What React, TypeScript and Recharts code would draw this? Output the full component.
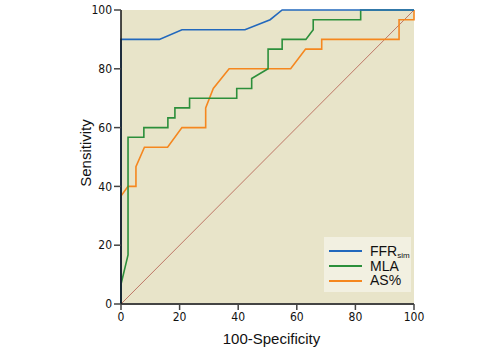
import { LineChart, Line, XAxis, YAxis, CartesianGrid } from 'recharts'

// ROC curves, values (30 positives → steps of 3.33)
const ffrX = [0, 0, 13.1, 20.8, 42.3, 50.9, 55, 100]
const ffrY = [0, 90, 90, 93.3, 93.3, 96.7, 100, 100]

const mlaX = [0, 0, 2.4, 2.4, 7.8, 7.8, 16, 16, 18.4, 18.4, 23.4, 23.4, 39.5, 39.5, 44.6, 44.6, 50.2, 50.2, 55, 55, 63.1, 65.6, 65.6, 81.8, 81.8, 100]
const mlaY = [0, 6.7, 16.7, 56.7, 56.7, 60, 60, 63.3, 63.3, 66.7, 66.7, 70, 70, 73.3, 73.3, 76.7, 80, 86.7, 86.7, 90, 90, 93.3, 96.7, 96.7, 100, 100]

const asX = [0, 0, 2.4, 5.1, 5.1, 8, 15.9, 20.8, 28.9, 28.9, 31.5, 36.9, 57.9, 63, 68.5, 68.5, 94.9, 94.9, 100, 100]
const asY = [0, 36.7, 40, 40, 46.7, 53.3, 53.3, 60, 60, 66.7, 73.3, 80, 80, 86.7, 86.7, 90, 90, 96.7, 96.7, 100]

const diagX = [0, 100]
const diagY = [0, 100]

const ticks = [0, 20, 40, 60, 80, 100]

const zip = (xs: number[], ys: number[]) => xs.map((x, i) => ({ x, y: ys[i] }))

const series = [
  { key: 'ffr', name: 'FFR', sub: 'sim', color: '#2268bd', data: zip(ffrX, ffrY) },
  { key: 'mla', name: 'MLA', sub: '', color: '#2c8f3b', data: zip(mlaX, mlaY) },
  { key: 'as', name: 'AS%', sub: '', color: '#f5871f', data: zip(asX, asY) }
]

const tickFont = "'DejaVu Sans Condensed', 'Liberation Sans Narrow', sans-serif"
const labelFont = "'Liberation Sans', Arial, sans-serif"

const LegendBox = () => (
  <div style={{ position: 'absolute', left: 324, top: 237, width: 87, height: 55, boxSizing: 'border-box', background: '#f2f0e1', padding: '7px 0 0 5px', fontFamily: labelFont }}>
    {series.map((s) => (
      <div key={s.key} style={{ display: 'flex', alignItems: 'center', height: 14.7 }}>
        <div style={{ width: 33, height: 2, background: s.color, marginRight: 8 }} />
        <span style={{ fontSize: 14, color: '#111', lineHeight: '13px', height: 13, whiteSpace: 'nowrap' }}>
          {s.name}
          {s.sub && <span style={{ fontSize: 8, position: 'relative', top: 2 }}>{s.sub}</span>}
        </span>
      </div>
    ))}
  </div>
)

const YLabel = (props: any) => {
  const { viewBox } = props
  const cx = viewBox.x + viewBox.width - 36
  const cy = viewBox.y + viewBox.height / 2 - 4
  return (
    <text x={cx} y={cy} transform={`rotate(-90, ${cx}, ${cy})`} textAnchor='middle' dominantBaseline='central'
      fontSize={15} fontFamily={labelFont} fill='#111'>
      Sensitivity
    </text>
  )
}

export default function App() {
  return (
    <div style={{ position: 'absolute', left: 0, top: 0, width: 502, height: 348, background: '#fff' }}>
      <LineChart width={502} height={348} margin={{ top: 10, right: 88, bottom: 0, left: 0 }}>
        <CartesianGrid fill='#e8e4c9' horizontal={false} vertical={false} />
        <XAxis
          type='number'
          dataKey='x'
          domain={[0, 100]}
          ticks={ticks}
          height={44}
          axisLine={{ stroke: '#444', strokeWidth: 2 }}
          tickLine={{ stroke: '#444', strokeWidth: 1.5 }}
          tickSize={6}
          tick={{ fontSize: 12, fill: '#111', fontFamily: tickFont }}
          label={{ value: '100-Specificity', position: 'insideBottom', offset: 4, dx: 4, fontSize: 15, fill: '#111', fontFamily: labelFont }}
        />
        <YAxis
          type='number'
          dataKey='y'
          domain={[0, 100]}
          ticks={ticks}
          width={121}
          axisLine={{ stroke: '#111', strokeWidth: 1.5 }}
          tickLine={{ stroke: '#444', strokeWidth: 1.5 }}
          tickSize={7}
          tick={{ fontSize: 12, fill: '#111', fontFamily: tickFont }}
          label={<YLabel />}
        />
        <Line data={zip(diagX, diagY)} dataKey='y' type='linear' stroke='#b25a4c' strokeWidth={0.8} dot={false} isAnimationActive={false} legendType='none' />
        {[...series].reverse().map((s) => (
          <Line key={s.key} data={s.data} dataKey='y' name={s.name} type='linear' stroke={s.color} strokeWidth={1.6} dot={false} isAnimationActive={false} />
        ))}
      </LineChart>
      <LegendBox />
    </div>
  )
}
